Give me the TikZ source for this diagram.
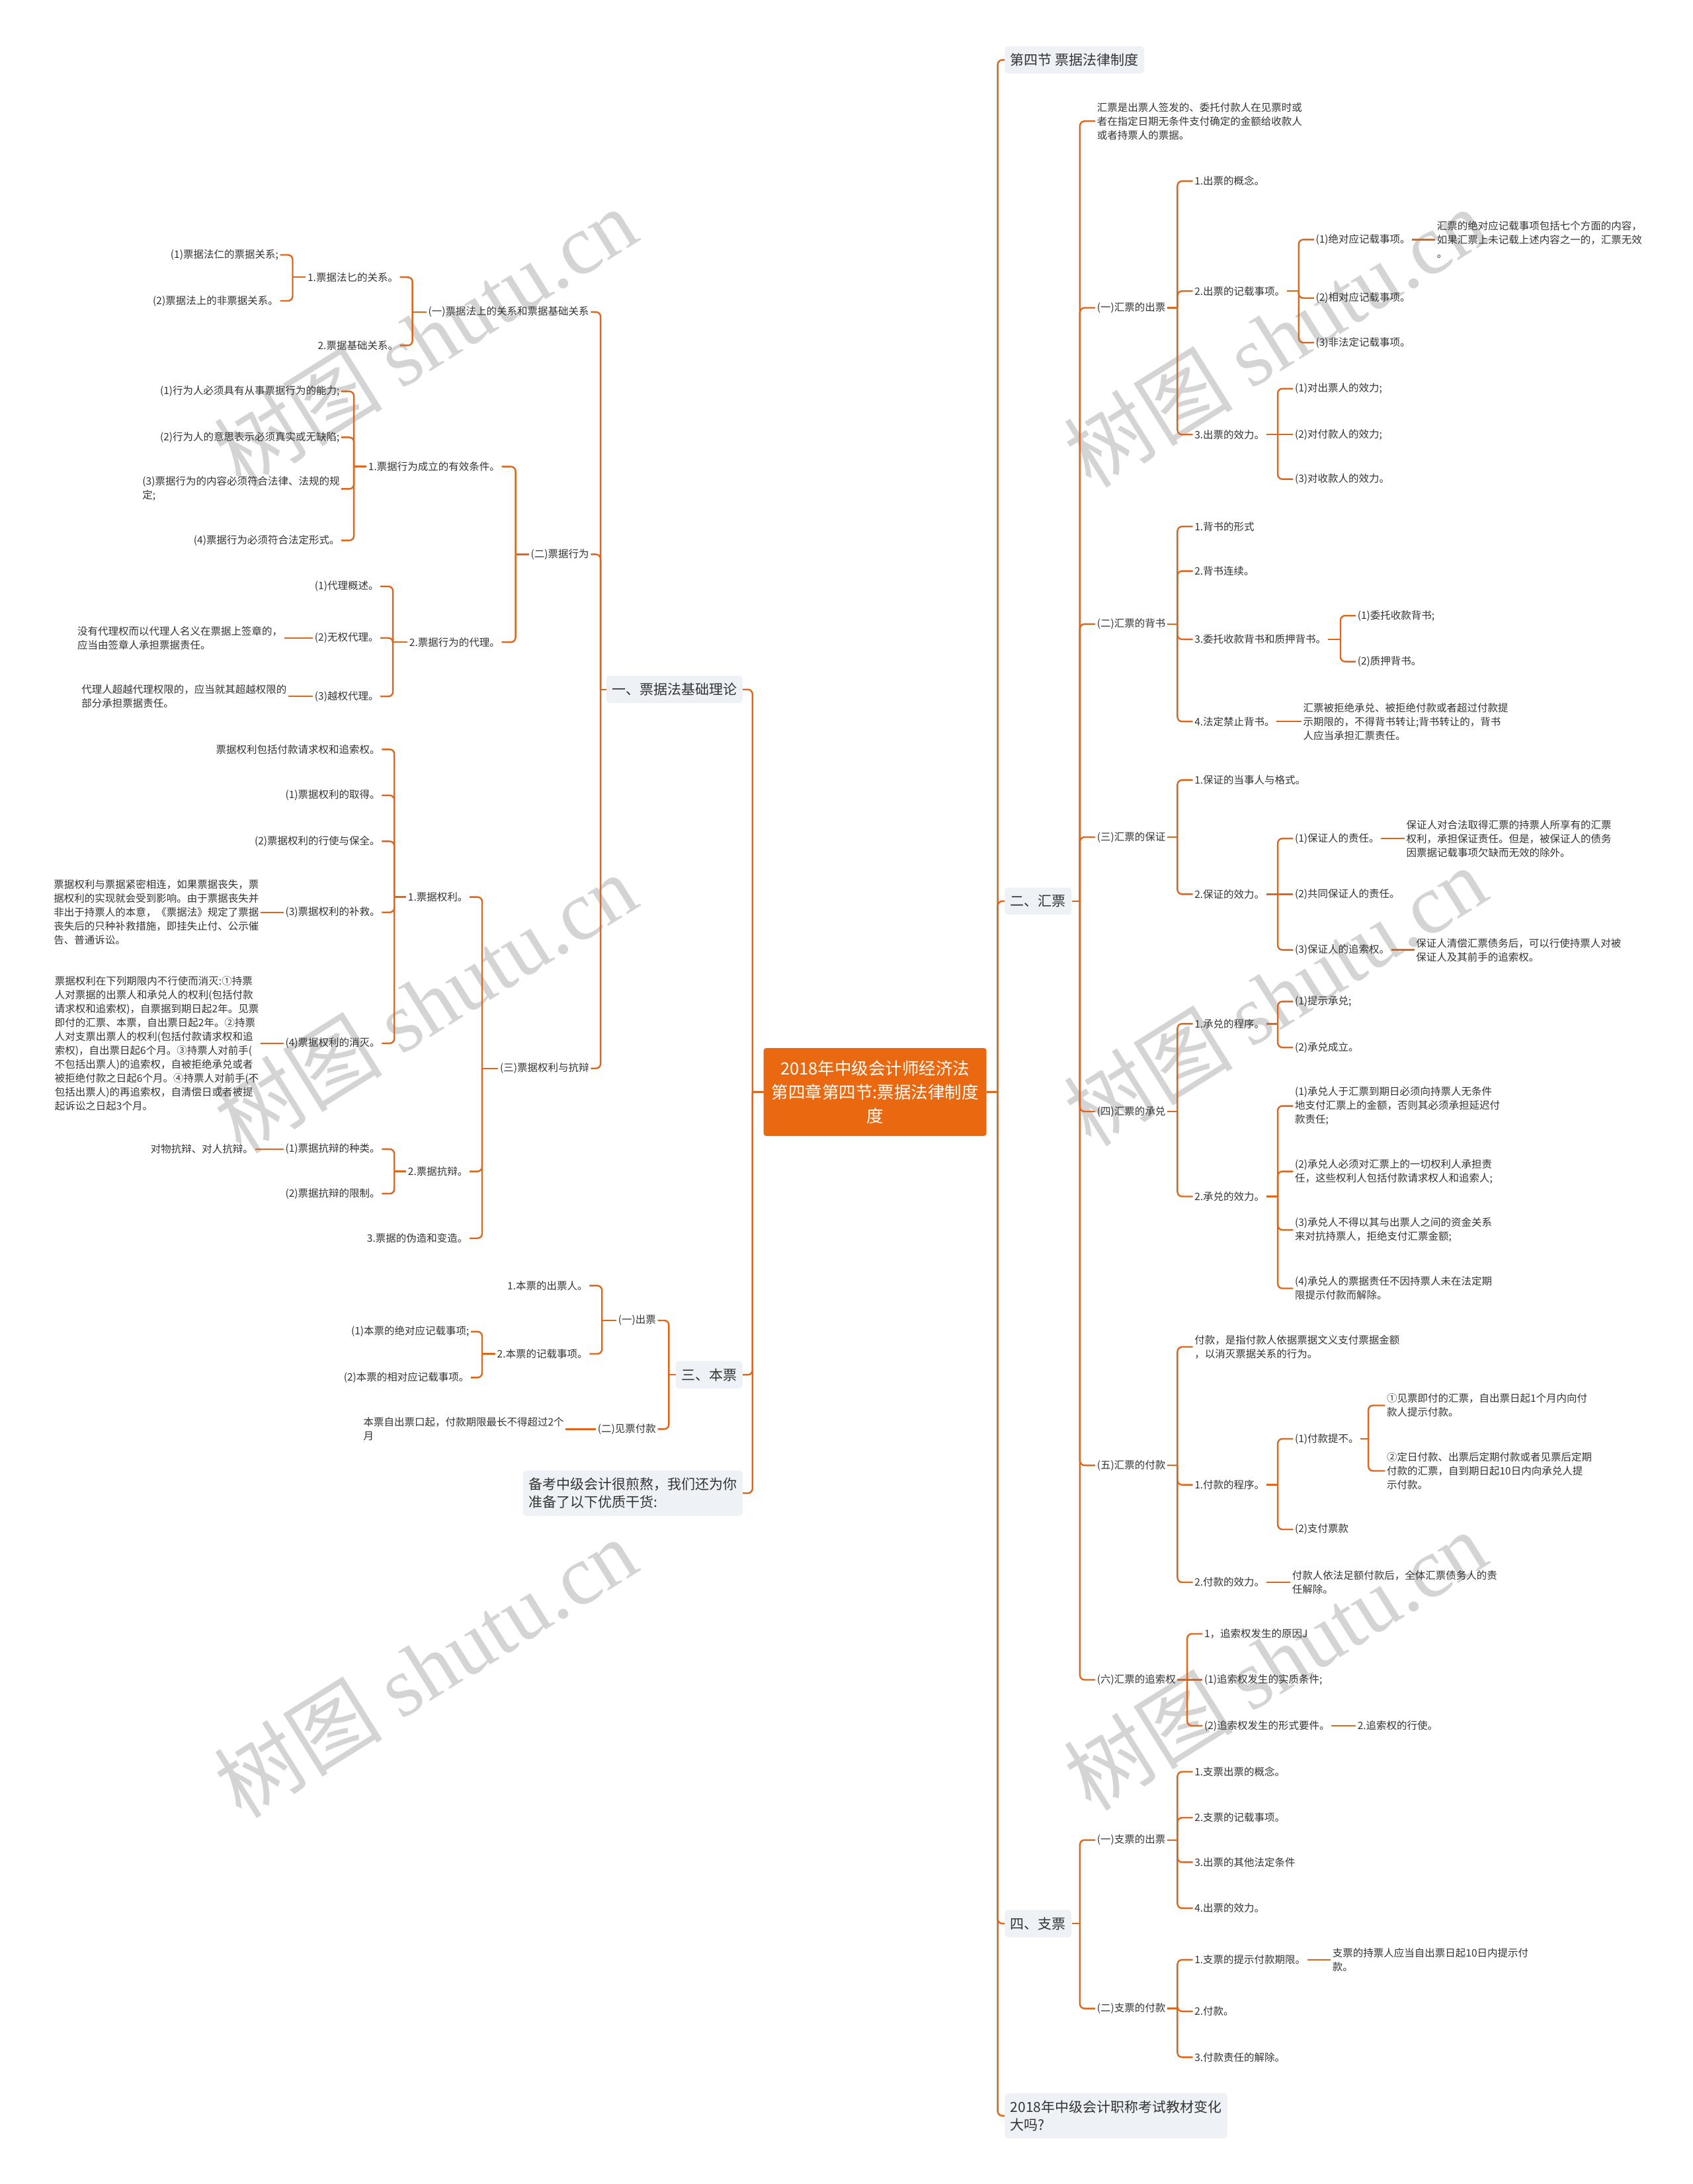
\documentclass[tikz,border=0pt]{standalone}
\usepackage{fontspec}
\setmainfont{Noto Sans CJK SC}
\newfontfamily\wmlatin{Liberation Serif}
\definecolor{linec}{RGB}{221,102,28}
\definecolor{orangec}{RGB}{233,104,16}
\definecolor{boxc}{RGB}{238,241,245}
\definecolor{txtc}{RGB}{51,51,51}
\definecolor{wmc}{RGB}{212,212,212}
\tikzset{
  base/.style={font=\fontsize{15.5}{21}\selectfont, text=txtc, inner xsep=2.5pt, inner ysep=1pt, align=left},
  R/.style={base, anchor=west},
  L/.style={base, anchor=east},
  box/.style={font=\fontsize{21}{27}\selectfont, text=txtc, fill=boxc, rounded corners=5pt, inner xsep=8.5pt, inner ysep=11pt, align=left},
  RB/.style={box, anchor=west},
  LB/.style={box, anchor=east},
  rootbox/.style={fill=orangec, text=white, rounded corners=4pt, font=\fontsize{25.5}{36}\selectfont, align=center, minimum width=337pt, minimum height=133pt, inner sep=4pt},
  conn/.style={draw=linec, line width=2.4pt, rounded corners=7pt},
  wm/.style={text=wmc, font=\fontsize{128}{128}\selectfont, rotate=32, inner sep=0pt}
}
\newcommand\rconn[3]{%
  \coordinate (tmpc) at (#2,0);
  \draw[conn] (#1.east) -- (#1.east -| tmpc);
  \foreach \c in {#3}{\draw[conn] (#1.east -| tmpc) |- (\c.west);}
}
\newcommand\lconn[3]{%
  \coordinate (tmpc) at (#2,0);
  \draw[conn] (#1.west) -- (#1.west -| tmpc);
  \foreach \c in {#3}{\draw[conn] (#1.west -| tmpc) |- (\c.east);}
}
\begin{document}
\begin{tikzpicture}[x=2.107pt,y=-2.1065pt]
\useasboundingbox (0,0) rectangle (1215,1568);
% watermarks
\node[wm] (w1) at (305,242) {树图 {\wmlatin shutu.cn}};
\node[wm] (w2) at (305,720) {树图 {\wmlatin shutu.cn}};
\node[wm] (w3) at (305,1197) {树图 {\wmlatin shutu.cn}};
\node[wm] (w4) at (915,242) {树图 {\wmlatin shutu.cn}};
\node[wm] (w5) at (915,715) {树图 {\wmlatin shutu.cn}};
\node[wm] (w6) at (915,1192) {树图 {\wmlatin shutu.cn}};

% root
\node[rootbox] (c) at (628,784) {2018年中级会计师经济法\\第四章第四节:票据法律制度\\度};

% right level 1
\node[RB] (s4) at (721,43) {第四节 票据法律制度};
\node[RB] (hp) at (721,647) {二、汇票};
\node[RB] (zp) at (721,1381) {四、支票};
\node[RB] (q18) at (721,1519) {2018年中级会计职称考试教材变化\\大吗?};

% left level 1
\node[LB] (jc) at (533,495) {一、票据法基础理论};
\node[LB] (bp) at (533,987) {三、本票};
\node[LB] (bk) at (533,1072) {备考中级会计很煎熬，我们还为你\\准备了以下优质干货:};

% ===== 二、汇票 =====
\node[R] (h0) at (786,87) {汇票是出票人签发的、委托付款人在见票时或\\者在指定日期无条件支付确定的金额给收款人\\或者持票人的票据。};
\node[R] (h1) at (786,221) {(一)汇票的出票};
\node[R] (h2) at (786,448) {(二)汇票的背书};
\node[R] (h3) at (786,601) {(三)汇票的保证};
\node[R] (h4) at (786,798) {(四)汇票的承兑};
\node[R] (h5) at (786,1052) {(五)汇票的付款};
\node[R] (h6) at (786,1206) {(六)汇票的追索权};

\node[R] (h11) at (856,130) {1.出票的概念。};
\node[R] (h12) at (856,209) {2.出票的记载事项。};
\node[R] (h13) at (856,312) {3.出票的效力。};
\node[R] (h121) at (943,172) {(1)绝对应记载事项。};
\node[R] (h122) at (943,214) {(2)相对应记载事项。};
\node[R] (h123) at (943,246) {(3)非法定记载事项。};
\node[R] (h121t) at (1030,172) {汇票的绝对应记载事项包括七个方面的内容，\\如果汇票上未记载上述内容之一的，汇票无效\\。};
\node[R] (h131) at (928,279) {(1)对出票人的效力;};
\node[R] (h132) at (928,312) {(2)对付款人的效力;};
\node[R] (h133) at (928,344) {(3)对收款人的效力。};

\node[R] (h21) at (856,378) {1.背书的形式};
\node[R] (h22) at (856,410) {2.背书连续。};
\node[R] (h23) at (856,459) {3.委托收款背书和质押背书。};
\node[R] (h24) at (856,518) {4.法定禁止背书。};
\node[R] (h231) at (973,442) {(1)委托收款背书;};
\node[R] (h232) at (973,475) {(2)质押背书。};
\node[R] (h24t) at (934,518) {汇票被拒绝承兑、被拒绝付款或者超过付款提\\示期限的，不得背书转让;背书转让的，背书\\人应当承担汇票责任。};

\node[R] (h31) at (856,560) {1.保证的当事人与格式。};
\node[R] (h32) at (856,642) {2.保证的效力。};
\node[R] (h321) at (928,602) {(1)保证人的责任。};
\node[R] (h322) at (928,642) {(2)共同保证人的责任。};
\node[R] (h323) at (928,682) {(3)保证人的追索权。};
\node[R] (h321t) at (1008,602) {保证人对合法取得汇票的持票人所享有的汇票\\权利，承担保证责任。但是，被保证人的债务\\因票据记载事项欠缺而无效的除外。};
\node[R] (h323t) at (1015,682) {保证人清偿汇票债务后，可以行使持票人对被\\保证人及其前手的追索权。};

\node[R] (h41) at (856,735) {1.承兑的程序。};
\node[R] (h42) at (856,859) {2.承兑的效力。};
\node[R] (h411) at (928,719) {(1)提示承兑;};
\node[R] (h412) at (928,752) {(2)承兑成立。};
\node[R] (h421) at (928,794) {(1)承兑人于汇票到期日必须向持票人无条件\\地支付汇票上的金额，否则其必须承担延迟付\\款责任;};
\node[R] (h422) at (928,841) {(2)承兑人必须对汇票上的一切权利人承担责\\任，这些权利人包括付款请求权人和追索人;};
\node[R] (h423) at (928,883) {(3)承兑人不得以其与出票人之间的资金关系\\来对抗持票人，拒绝支付汇票金额;};
\node[R] (h424) at (928,925) {(4)承兑人的票据责任不因持票人未在法定期\\限提示付款而解除。};

\node[R] (h50) at (856,967) {付款，是指付款人依据票据文义支付票据金额\\，以消灭票据关系的行为。};
\node[R] (h51) at (856,1066) {1.付款的程序。};
\node[R] (h52) at (856,1136) {2.付款的效力。};
\node[R] (h511) at (928,1033) {(1)付款提不。};
\node[R] (h512) at (928,1098) {(2)支付票款};
\node[R] (h5111) at (994,1009) {①见票即付的汇票，自出票日起1个月内向付\\款人提示付款。};
\node[R] (h5112) at (994,1056) {②定日付款、出票后定期付款或者见票后定期\\付款的汇票，自到期日起10日内向承兑人提\\示付款。};
\node[R] (h52t) at (926,1136) {付款人依法足额付款后，全体汇票债务人的责\\任解除。};

\node[R] (h61) at (863,1173) {1，追索权发生的原因J};
\node[R] (h62) at (863,1206) {(1)追索权发生的实质条件;};
\node[R] (h63) at (863,1239) {(2)追索权发生的形式要件。};
\node[R] (h63t) at (973,1239) {2.追索权的行使。};

% ===== 四、支票 =====
\node[R] (z1) at (786,1321) {(一)支票的出票};
\node[R] (z2) at (786,1442) {(二)支票的付款};
\node[R] (z11) at (856,1272) {1.支票出票的概念。};
\node[R] (z12) at (856,1305) {2.支票的记载事项。};
\node[R] (z13) at (856,1337) {3.出票的其他法定条件};
\node[R] (z14) at (856,1370) {4.出票的效力。};
\node[R] (z21) at (856,1407) {1.支票的提示付款期限。};
\node[R] (z22) at (856,1444) {2.付款。};
\node[R] (z23) at (856,1477) {3.付款责任的解除。};
\node[R] (z21t) at (955,1407) {支票的持票人应当自出票日起10日内提示付\\款。};

% ===== 一、票据法基础理论 =====
\node[L] (j1) at (424,224) {(一)票据法上的关系和票据基础关系};
\node[L] (j2) at (424,398) {(二)票据行为};
\node[L] (j3) at (424,767) {(三)票据权利与抗辩};
\node[L] (j11) at (287,199) {1.票据法匕的关系。};
\node[L] (j12) at (287,248) {2.票据基础关系。};
\node[L] (j111) at (201,183) {(1)票据法仁的票据关系;};
\node[L] (j112) at (201,216) {(2)票据法上的非票据关系。};

\node[L] (j21) at (360,335) {1.票据行为成立的有效条件。};
\node[L] (j22) at (360,461) {2.票据行为的代理。};
\node[L] (j211) at (245,281) {(1)行为人必须具有从事票据行为的能力;};
\node[L] (j212) at (245,314) {(2)行为人的意思表示必须真实或无缺陷;};
\node[L] (j213) at (245,351) {(3)票据行为的内容必须符合法律、法规的规\\定;};
\node[L] (j214) at (245,388) {(4)票据行为必须符合法定形式。};
\node[L] (j221) at (273,421) {(1)代理概述。};
\node[L] (j222) at (273,458) {(2)无权代理。};
\node[L] (j223) at (273,500) {(3)越权代理。};
\node[L] (j222t) at (204,458) {没有代理权而以代理人名义在票据上签章的，\\应当由签章人承担票据责任。};
\node[L] (j223t) at (207,500) {代理人超越代理权限的，应当就其超越权限的\\部分承担票据责任。};

\node[L] (j31) at (337,644) {1.票据权利。};
\node[L] (j32) at (337,841) {2.票据抗辩。};
\node[L] (j33) at (337,889) {3.票据的伪造和变造。};
\node[L] (j310) at (274,538) {票据权利包括付款请求权和追索权。};
\node[L] (j311) at (274,571) {(1)票据权利的取得。};
\node[L] (j312) at (274,604) {(2)票据权利的行使与保全。};
\node[L] (j313) at (274,655) {(3)票据权利的补救。};
\node[L] (j314) at (274,749) {(4)票据权利的消灭。};
\node[L] (j313t) at (187,655) {票据权利与票据紧密相连，如果票据丧失，票\\据权利的实现就会受到影响。由于票据丧失并\\非出于持票人的本意，《票据法》规定了票据\\丧失后的只种补救措施，即挂失止付、公示催\\告、普通诉讼。};
\node[L] (j314t) at (187,749) {票据权利在下列期限内不行使而消灭:①持票\\人对票据的出票人和承兑人的权利(包括付款\\请求权和追索权)，自票据到期日起2年。见票\\即付的汇票、本票，自出票日起2年。②持票\\人对支票出票人的权利(包括付款请求权和追\\索权)，自出票日起6个月。③持票人对前手(\\不包括出票人)的追索权，自被拒绝承兑或者\\被拒绝付款之日起6个月。④持票人对前手(不\\包括出票人)的再追索权，自清偿日或者被提\\起诉讼之日起3个月。};
\node[L] (j321) at (274,825) {(1)票据抗辩的种类。};
\node[L] (j322) at (274,857) {(2)票据抗辩的限制。};
\node[L] (j321t) at (183,825) {对物抗辩、对人抗辩。};

% ===== 三、本票 =====
\node[L] (b1) at (472,948) {(一)出票};
\node[L] (b2) at (472,1026) {(二)见票付款};
\node[L] (b11) at (423,923) {1.本票的出票人。};
\node[L] (b12) at (423,972) {2.本票的记载事项。};
\node[L] (b121) at (338,956) {(1)本票的绝对应记载事项;};
\node[L] (b122) at (338,989) {(2)本票的相对应记载事项。};
\node[L] (b2t) at (406,1026) {本票自出票口起，付款期限最长不得超过2个\\月};

% ===== connectors =====
\rconn{c}{716}{s4,hp,zp,q18}
\lconn{c}{540}{jc,bp,bk}

\rconn{hp}{775}{h0,h1,h2,h3,h4,h5,h6}
\rconn{h1}{845}{h11,h12,h13}
\rconn{h12}{932}{h121,h122,h123}
\draw[conn] (h121.east) -- (h121t.west);
\rconn{h13}{917}{h131,h133}
\draw[conn] (h13.east) -- (h132.west);
\rconn{h2}{845}{h21,h22,h23,h24}
\rconn{h23}{962}{h231,h232}
\draw[conn] (h24.east) -- (h24t.west);
\rconn{h3}{845}{h31,h32}
\rconn{h32}{917}{h321,h323}
\draw[conn] (h32.east) -- (h322.west);
\draw[conn] (h321.east) -- (h321t.west);
\draw[conn] (h323.east) -- (h323t.west);
\rconn{h4}{845}{h41,h42}
\rconn{h41}{917}{h411,h412}
\rconn{h42}{917}{h421,h422,h423,h424}
\rconn{h5}{845}{h50,h51,h52}
\rconn{h51}{917}{h511,h512}
\rconn{h511}{982}{h5111,h5112}
\draw[conn] (h52.east) -- (h52t.west);
\rconn{h6}{852}{h61,h63}
\draw[conn] (h6.east) -- (h62.west);
\draw[conn] (h63.east) -- (h63t.west);

\rconn{zp}{775}{z1,z2}
\rconn{z1}{845}{z11,z12,z13,z14}
\rconn{z2}{845}{z21,z22,z23}
\draw[conn] (z21.east) -- (z21t.west);

\lconn{jc}{431}{j1,j2,j3}
\lconn{j1}{296}{j11,j12}
\lconn{j11}{210}{j111,j112}
\lconn{j2}{370}{j21,j22}
\lconn{j21}{254}{j211,j212,j213,j214}
\lconn{j22}{282}{j221,j222,j223}
\draw[conn] (j222.west) -- (j222t.east);
\draw[conn] (j223.west) -- (j223t.east);
\lconn{j3}{346}{j31,j32,j33}
\lconn{j31}{283}{j310,j311,j312,j313,j314}
\draw[conn] (j313.west) -- (j313t.east);
\draw[conn] (j314.west) -- (j314t.east);
\lconn{j32}{283}{j321,j322}
\draw[conn] (j321.west) -- (j321t.east);

\lconn{bp}{480}{b1,b2}
\lconn{b1}{432}{b11,b12}
\lconn{b12}{346}{b121,b122}
\draw[conn] (b2.west) -- (b2t.east);
\end{tikzpicture}
\end{document}
